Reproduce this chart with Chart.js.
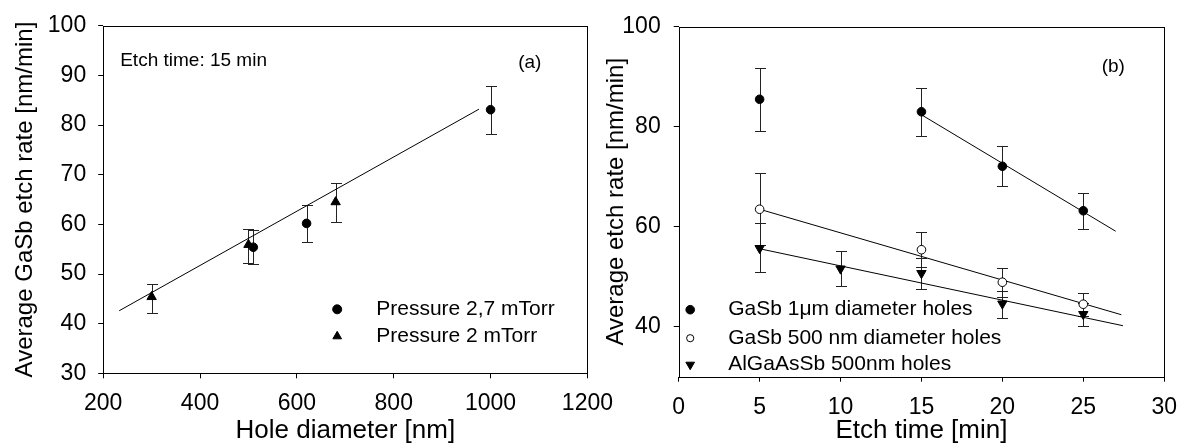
<!DOCTYPE html>
<html>
<head>
  <title>GaSb etch rate</title>
  <script src="https://cdn.jsdelivr.net/npm/chart.js"></script>
  <style>
    body {
      margin: 0;
      background: #fff;
      width: 1189px;
      height: 444px;
      overflow: hidden;
      position: relative;
    }
    .panel { position: absolute; top: 0; height: 444px; }
    #wrapA { left: 0; width: 625px; }
    #wrapB { left: 590px; width: 599px; }
  </style>
</head>
<body>

<div class="panel" id="wrapA"><canvas id="chartA"></canvas></div>
<div class="panel" id="wrapB"><canvas id="chartB"></canvas></div>

<script>
  // (a) etch rate vs hole diameter, 15 min etch
  const diam27 = [510, 620, 1000];
  const rate27 = [55.4, 60.2, 83.1];
  const hi27 = [58.8, 63.9, 87.9];
  const lo27 = [52.0, 56.5, 78.2];

  const diam2 = [300, 500, 680];
  const rate2 = [45.4, 55.9, 64.5];
  const hi2 = [48.0, 59.0, 68.3];
  const lo2 = [42.1, 52.2, 60.5];

  const fitAx = [233, 976];
  const fitAy = [42.6, 83.2];

  const ticksAx = [200, 400, 600, 800, 1000, 1200];
  const ticksAy = [30, 40, 50, 60, 70, 80, 90, 100];

  // (b) etch rate vs etch time
  const time1um = [5, 15, 20, 25];
  const rate1um = [85.5, 83.0, 72.1, 63.2];
  const hi1um = [91.8, 87.8, 76.1, 66.7];
  const lo1um = [79.2, 78.2, 68.1, 59.6];

  const time500 = [5, 15, 20, 25];
  const rate500 = [63.5, 55.4, 48.9, 44.5];
  const hi500 = [70.7, 58.9, 51.8, 46.8];
  const lo500 = [56.3, 51.9, 46.0, 42.2];

  const timeAl = [5, 10, 15, 20, 25];
  const rateAl = [55.7, 51.6, 50.7, 44.6, 42.5];
  const hiAl = [60.7, 55.2, 53.8, 47.2, 44.8];
  const loAl = [51.0, 48.2, 47.6, 41.8, 40.2];

  const fit1umX = [15, 27.0];
  const fit1umY = [82.4, 59.1];
  const fit500X = [5, 27.35];
  const fit500Y = [63.5, 42.4];
  const fitAlX = [5, 27.45];
  const fitAlY = [55.6, 40.2];

  const ticksBx = [0, 5, 10, 15, 20, 25, 30];
  const ticksBy = [40, 60, 80, 100];

  const FONT = "'Liberation Sans', Arial, sans-serif";
  Chart.defaults.font.family = FONT;
  Chart.defaults.color = '#000';

  const pts = (xs, ys) => xs.map((x, i) => ({ x: x, y: ys[i] }));

  function marker(ctx, style, down, x, y, r, fill) {
    ctx.beginPath();
    if (style === 'circle') {
      ctx.arc(x, y, r, 0, Math.PI * 2);
    } else {
      const s = down ? -1 : 1;
      for (let k = 0; k < 3; k++) {
        const a = k * 2 * Math.PI / 3;
        ctx.lineTo(x + Math.sin(a) * r, y - s * Math.cos(a) * r);
      }
      ctx.closePath();
    }
    ctx.fillStyle = fill;
    ctx.fill();
    ctx.strokeStyle = '#000';
    ctx.lineWidth = 1;
    ctx.stroke();
  }

  function pointSet(label, xs, ys, hi, lo, style, fill, down) {
    return {
      label: label,
      data: pts(xs, ys),
      errHi: hi,
      errLo: lo,
      pointStyle: style,
      pointRotation: down ? 180 : 0,
      pointRadius: style === 'circle' ? 4.3 : 5.4,
      pointBackgroundColor: fill,
      pointBorderColor: '#000',
      pointBorderWidth: 1,
      order: 1
    };
  }

  function fitSet(xs, ys) {
    return {
      data: pts(xs, ys),
      showLine: true,
      borderColor: '#000',
      borderWidth: 1,
      pointRadius: 0,
      order: 2
    };
  }

  const errorBars = {
    id: 'errorBars',
    beforeDatasetsDraw(chart) {
      const { ctx, scales: { x, y } } = chart;
      ctx.save();
      ctx.strokeStyle = '#222';
      ctx.lineWidth = 1;
      chart.data.datasets.forEach(ds => {
        if (!ds.errHi) return;
        ds.data.forEach((p, j) => {
          const px = Math.round(x.getPixelForValue(p.x)) + 0.5;
          const top = Math.round(y.getPixelForValue(ds.errHi[j])) + 0.5;
          const bot = Math.round(y.getPixelForValue(ds.errLo[j])) + 0.5;
          ctx.beginPath();
          ctx.moveTo(px, top); ctx.lineTo(px, bot);
          ctx.moveTo(px - 5.5, top); ctx.lineTo(px + 5.5, top);
          ctx.moveTo(px - 5.5, bot); ctx.lineTo(px + 5.5, bot);
          ctx.stroke();
        });
      });
      ctx.restore();
    }
  };

  const frame = {
    id: 'frame',
    afterDatasetsDraw(chart) {
      const { ctx, chartArea: a } = chart;
      const l = Math.round(a.left) + 0.5, r = Math.round(a.right) + 0.5;
      const t = Math.round(a.top) + 0.5, b = Math.round(a.bottom) + 0.5;
      ctx.save();
      ctx.strokeStyle = '#000';
      ctx.lineWidth = 1;
      ctx.strokeRect(l, t, r - l, b - t);
      ctx.restore();
    }
  };

  function drawLegend(chart, mx, tx, rows, radii) {
    const ctx = chart.ctx;
    const sets = chart.data.datasets.filter(ds => ds.errHi);
    ctx.font = '21px ' + FONT;
    ctx.textBaseline = 'middle';
    sets.forEach((ds, i) => {
      marker(ctx, ds.pointStyle, ds.pointRotation === 180, mx, rows[i], radii[i], ds.pointBackgroundColor);
      ctx.fillStyle = '#000';
      ctx.fillText(ds.label, tx, rows[i]);
    });
  }

  const notesA = {
    id: 'notesA',
    afterDraw(chart) {
      const { ctx, chartArea: a } = chart;
      ctx.save();
      ctx.fillStyle = '#000';
      ctx.textBaseline = 'middle';
      ctx.font = '19px ' + FONT;
      ctx.fillText('Etch time: 15 min', a.left + 17, a.top + 35);
      ctx.fillText('(a)', a.left + 415, a.top + 37);
      drawLegend(chart, a.left + 234, a.left + 273, [a.bottom - 64, a.bottom - 37], [4.5, 5]);
      ctx.restore();
    }
  };

  const notesB = {
    id: 'notesB',
    afterDraw(chart) {
      const { ctx, chartArea: a } = chart;
      ctx.save();
      ctx.fillStyle = '#000';
      ctx.textBaseline = 'middle';
      ctx.font = '19px ' + FONT;
      ctx.fillText('(b)', a.left + 423, a.top + 40);
      drawLegend(chart, a.left + 11.5, a.left + 49.5,
        [a.bottom - 67, a.bottom - 38.5, a.bottom - 12], [4.3, 3.6, 5]);
      ctx.restore();
    }
  };

  function xAxis(min, max, ticks, height, text) {
    return {
      type: 'linear', min: min, max: max,
      afterBuildTicks: s => { s.ticks = ticks.map(v => ({ value: v })); },
      afterFit: s => { s.height = height; },
      grid: { drawOnChartArea: false, tickLength: 5, color: '#000' },
      border: { display: false },
      ticks: { padding: 12, font: { size: 23 }, color: '#000', maxRotation: 0, autoSkip: false,
               callback: v => String(v) },
      title: { display: true, text: text, font: { size: 26, lineHeight: 1 }, padding: 0, color: '#000' }
    };
  }

  function yAxis(min, max, ticks, width, text, tpad, titlePad) {
    return {
      type: 'linear', min: min, max: max,
      afterBuildTicks: s => { s.ticks = ticks.map(v => ({ value: v })); },
      afterFit: s => { s.width = width; },
      grid: { drawOnChartArea: false, tickLength: 5, color: '#000' },
      border: { display: false },
      ticks: { padding: tpad, font: { size: 23 }, color: '#000', autoSkip: false,
               callback: v => String(v) },
      title: { display: true, text: text, font: { size: 24, lineHeight: 1 },
               padding: { top: titlePad, bottom: 0 }, color: '#000' }
    };
  }

  const common = {
    responsive: true,
    maintainAspectRatio: false,
    animation: false,
    events: [],
    plugins: { legend: { display: false }, tooltip: { enabled: false } }
  };

  new Chart(document.getElementById('chartA'), {
    type: 'scatter',
    data: {
      datasets: [
        pointSet('Pressure 2,7 mTorr', diam27, rate27, hi27, lo27, 'circle', '#000', false),
        pointSet('Pressure 2 mTorr', diam2, rate2, hi2, lo2, 'triangle', '#000', false),
        fitSet(fitAx, fitAy)
      ]
    },
    options: Object.assign({}, common, {
      layout: { padding: { left: 0, top: 21.7, right: 33.5, bottom: 0 } },
      scales: {
        x: xAxis(200, 1200, ticksAx, 70.7, 'Hole diameter [nm]'),
        y: yAxis(30, 100, ticksAy, 103.2, 'Average GaSb etch rate [nm/min]', 12, 13)
      }
    }),
    plugins: [errorBars, frame, notesA]
  });

  new Chart(document.getElementById('chartB'), {
    type: 'scatter',
    data: {
      datasets: [
        pointSet('GaSb 1\u03bcm diameter holes', time1um, rate1um, hi1um, lo1um, 'circle', '#000', false),
        pointSet('GaSb 500 nm diameter holes', time500, rate500, hi500, lo500, 'circle', '#fff', false),
        pointSet('AlGaAsSb 500nm holes', timeAl, rateAl, hiAl, loAl, 'triangle', '#000', true),
        fitSet(fit1umX, fit1umY),
        fitSet(fit500X, fit500Y),
        fitSet(fitAlX, fitAlY)
      ]
    },
    options: Object.assign({}, common, {
      layout: { padding: { left: 0, top: 21.7, right: 17.4, bottom: 0 } },
      scales: {
        x: xAxis(0, 30, ticksBx, 67.3, 'Etch time [min]'),
        y: yAxis(30, 100, ticksBy, 88.7, 'Average etch rate [nm/min]', 13, 14.7)
      }
    }),
    plugins: [errorBars, frame, notesB]
  });
</script>

</body>
</html>
